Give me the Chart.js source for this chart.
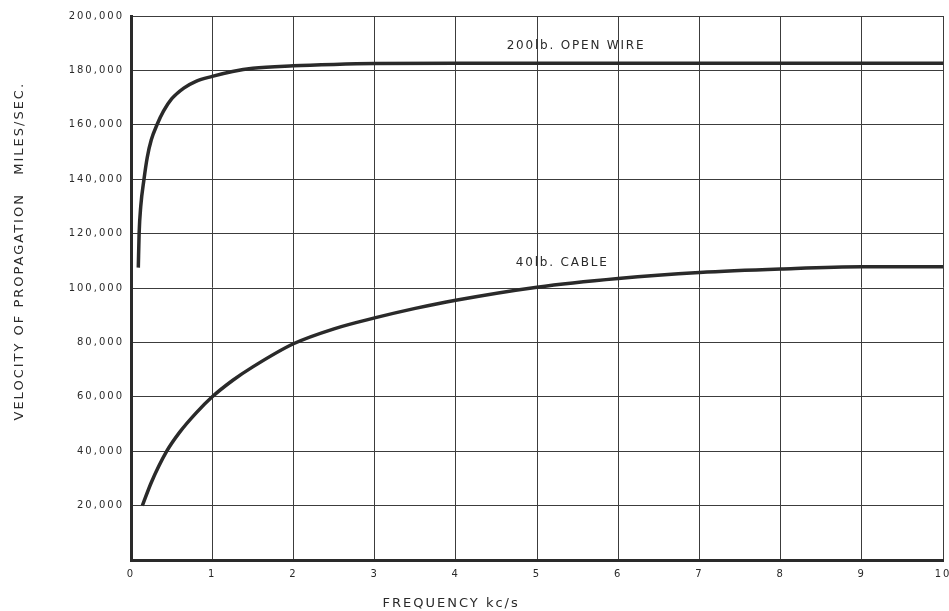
<!DOCTYPE html>
<html>
<head>
<meta charset="utf-8">
<script src="https://cdn.jsdelivr.net/npm/chart.js@4.4.0/dist/chart.umd.min.js"></script>
<style>
  html, body { margin: 0; padding: 0; background: #fff; }
  #wrap { width: 949px; height: 611px; }
</style>
</head>
<body>
<div id="wrap"><canvas id="velocityChart"></canvas></div>
<script>
// frequency (kc/s) and velocity (miles/sec)
const openWireFreq = [0.09, 0.1, 0.12, 0.16, 0.2, 0.25, 0.32, 0.4, 0.5, 0.65, 0.8, 1, 1.25, 1.5, 2, 2.5, 3, 4, 5, 6, 7, 8, 9, 10];
const openWireVel  = [107500, 120000, 130000, 140000, 148000, 154500, 160000, 165000, 169500, 173500, 176000, 177800, 179600, 180800, 181700, 182200, 182500, 182600, 182600, 182600, 182600, 182600, 182600, 182600];

const cableFreq = [0.14, 0.25, 0.44, 0.6, 0.8, 1, 1.25, 1.5, 2, 2.5, 3, 3.5, 4, 5, 6, 7, 8, 9, 10];
const cableVel  = [20000, 28500, 40000, 47000, 54000, 60000, 66000, 71000, 79500, 85000, 89000, 92500, 95500, 100300, 103500, 105700, 107000, 107800, 107800];

const curveLabels = ['200lb. OPEN WIRE', '40lb. CABLE'];
const xTicks = [0, 1, 2, 3, 4, 5, 6, 7, 8, 9, 10];

const ink = '#2a2a2a';
const gridInk = '#3c3c3c';
const fontFamily = '"DejaVu Sans", sans-serif';

const toPoints = (xs, ys) => xs.map((x, i) => ({ x: x, y: ys[i] }));

// canvas letter spacing (Chart.js has no option for it)
const spacing = {
    id: 'spacing',
    beforeUpdate(chart) { chart.ctx.letterSpacing = '2px'; },
    beforeDraw(chart) { chart.ctx.letterSpacing = '2px'; }
};

// text labels next to each curve
const curveText = {
    id: 'curveText',
    afterDatasetsDraw(chart) {
        const { ctx, scales } = chart;
        const spots = [[5.48, 189000], [5.31, 109200]];
        ctx.save();
        ctx.letterSpacing = '1.8px';
        ctx.font = '12px ' + fontFamily;
        ctx.fillStyle = ink;
        ctx.textAlign = 'center';
        ctx.textBaseline = 'middle';
        curveLabels.forEach((t, i) => {
            ctx.fillText(t, scales.x.getPixelForValue(spots[i][0]), scales.y.getPixelForValue(spots[i][1]));
        });
        ctx.restore();
    }
};

const lineStyle = { borderColor: ink, borderWidth: 3.5, pointRadius: 0, fill: false, cubicInterpolationMode: 'monotone' };

new Chart(document.getElementById('velocityChart'), {
    type: 'line',
    data: {
        datasets: [
            Object.assign({ label: curveLabels[0], data: toPoints(openWireFreq, openWireVel) }, lineStyle),
            Object.assign({ label: curveLabels[1], data: toPoints(cableFreq, cableVel) }, lineStyle)
        ]
    },
    options: {
        responsive: true,
        maintainAspectRatio: false,
        animation: false,
        layout: { padding: { top: 16, right: 6, left: 0, bottom: 0 } },
        plugins: { legend: { display: false }, tooltip: { enabled: false } },
        scales: {
            x: {
                type: 'linear', min: 0, max: 10,
                afterBuildTicks: s => { s.ticks = xTicks.map(v => ({ value: v })); },
                afterFit: s => { s.height = 51; s.paddingLeft = 0; s.paddingRight = 0; },
                grid: { color: gridInk, lineWidth: 1, drawTicks: false },
                border: { color: ink, width: 3 },
                ticks: { color: ink, padding: 8, font: { family: fontFamily, size: 10 } },
                title: {
                    display: true, text: 'FREQUENCY kc/s                            ', color: ink,
                    padding: { top: 13, bottom: 0 }, font: { family: fontFamily, size: 13 }
                }
            },
            y: {
                min: 0, max: 200000,
                afterFit: s => { s.width = 131; s.paddingTop = 0; s.paddingBottom = 0; },
                grid: { color: gridInk, lineWidth: 1, drawTicks: false },
                border: { color: ink, width: 3 },
                ticks: {
                    stepSize: 20000, color: ink, padding: 7, font: { family: fontFamily, size: 10 },
                    callback: v => v === 0 ? '' : v.toLocaleString('en-US')
                },
                title: {
                    display: true, text: '            VELOCITY OF PROPAGATION   MILES/SEC.', color: ink,
                    padding: { top: 12, bottom: 0 }, font: { family: fontFamily, size: 13 }
                }
            }
        }
    },
    plugins: [spacing, curveText]
});
</script>
</body>
</html>
